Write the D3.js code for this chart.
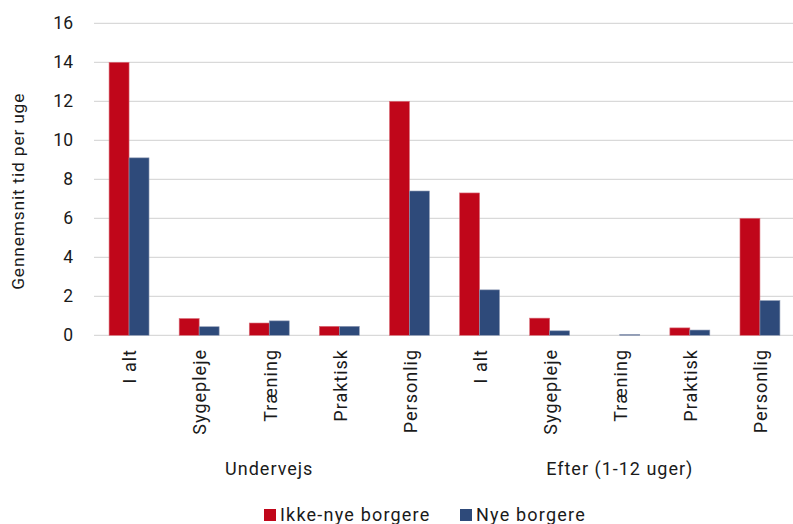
<!DOCTYPE html>
<html>
<head>
<meta charset="utf-8">
<script src="https://cdn.jsdelivr.net/npm/d3@7"></script>
<style>
  html, body { margin: 0; padding: 0; background: #fff; }
  svg { display: block; font-family: Roboto, "Noto Sans", sans-serif; }
</style>
</head>
<body>
<svg id="chart" width="793" height="524"></svg>
<script>
// Average time per week, by type of help
const categories = ["I alt", "Sygepleje", "Træning", "Praktisk", "Personlig",
                    "I alt", "Sygepleje", "Træning", "Praktisk", "Personlig"];
const groups = ["Undervejs", "Efter (1-12 uger)"];
const groupSize = 5;
const seriesNames = ["Ikke-nye borgere", "Nye borgere"];
const ikkeNye = [14.0, 0.86, 0.63, 0.46, 12.0, 7.3, 0.88, 0, 0.38, 6.0];
const nye     = [9.1, 0.44, 0.74, 0.46, 7.4, 2.33, 0.23, 0.04, 0.27, 1.78];
const yTicks = [0, 2, 4, 6, 8, 10, 12, 14, 16];
const yTitle = "Gennemsnit tid per uge";
const colors = ["#C0061A", "#2E4A7A"];

const svg = d3.select("#chart");
const plotLeft = 94, plotRight = 795, plotTop = 23.3, plotBottom = 335.3;
const textColor = "#1a1a1a";
const fontSize = 18;
const spacing = "1px";

const x = d3.scaleBand().domain(d3.range(categories.length)).range([plotLeft, plotRight])
  .paddingInner(0.43).paddingOuter(0.215);
const xs = d3.scaleBand().domain([0, 1]).range([0, x.bandwidth()]);
const y = d3.scaleLinear().domain([0, 16]).range([plotBottom, plotTop]);

// horizontal gridlines
svg.append("g").selectAll("line").data(yTicks).join("line")
  .attr("x1", plotLeft).attr("x2", 793)
  .attr("y1", d => y(d)).attr("y2", d => y(d))
  .attr("stroke", "#d9d9d9").attr("stroke-width", 1.2);

// y tick labels
const yAxis = svg.append("g").attr("transform", `translate(${plotLeft},0)`)
  .call(d3.axisLeft(y).tickValues(yTicks).tickSize(0).tickPadding(21));
yAxis.select(".domain").remove();
yAxis.selectAll("text").attr("font-size", 17.5).attr("fill", textColor)
  .attr("font-family", "Roboto, sans-serif");

// y title
svg.append("text")
  .attr("transform", `translate(24,${(plotTop + plotBottom) / 2 + 12}) rotate(-90)`)
  .attr("text-anchor", "middle").attr("font-size", 17.4).attr("letter-spacing", "0.8px")
  .attr("fill", textColor)
  .text(yTitle);

// bars
const series = [ikkeNye, nye];
series.forEach((vals, s) => {
  svg.append("g").selectAll("rect").data(vals).join("rect")
    .attr("x", (d, i) => x(i) + xs(s))
    .attr("y", d => y(d))
    .attr("width", xs.bandwidth())
    .attr("height", d => y(0) - y(d))
    .attr("fill", colors[s])
    .attr("stroke", s === 0 ? "#d9707b" : "#8f9bb5")
    .attr("stroke-width", d => d > 0 ? 0.6 : 0);
});

// category labels (rotated)
svg.append("g").selectAll("text").data(categories).join("text")
  .attr("transform", (d, i) => `translate(${x(i) + x.bandwidth() / 2 + 1},349) rotate(-90)`)
  .attr("text-anchor", "end").attr("dy", "0.35em")
  .attr("font-size", fontSize).attr("letter-spacing", spacing).attr("fill", textColor)
  .text(d => d);

// group labels
svg.append("g").selectAll("text").data(groups).join("text")
  .attr("x", (d, g) => {
    const a = x(g * groupSize), b = x(g * groupSize + groupSize - 1) + x.bandwidth();
    return (a + b) / 2;
  })
  .attr("y", 475)
  .attr("text-anchor", "middle").attr("font-size", fontSize).attr("letter-spacing", spacing)
  .attr("fill", textColor)
  .text(d => d);

// legend
const legendX = [264, 460];
const legend = svg.append("g").selectAll("g").data(seriesNames).join("g")
  .attr("transform", (d, i) => `translate(${legendX[i]},508)`);
legend.append("rect").attr("width", 12).attr("height", 12).attr("y", 1).attr("fill", (d, i) => colors[i]);
legend.append("text").attr("x", 16).attr("y", 12.5).attr("font-size", fontSize)
  .attr("letter-spacing", "1.2px").attr("fill", textColor).text(d => d);
</script>
</body>
</html>
